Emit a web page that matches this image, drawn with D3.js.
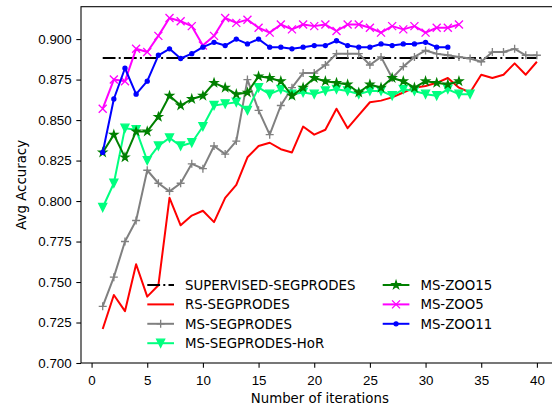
<!DOCTYPE html>
<html>
<head>
<meta charset="UTF-8">
<title>Avg Accuracy vs iterations</title>
<style>
  body { margin: 0; background: #fff; }
  svg { display: block; font-family: "DejaVu Sans", sans-serif; }
  .axis text { font-size: 13.33px; fill: #000; }
  .axis path, .axis line { stroke: #000; stroke-width: 1.07px; }
  .lbl { font-size: 13.33px; fill: #000; }
</style>
</head>
<body>
<svg></svg>
<script src="https://d3js.org/d3.v7.min.js"></script>
<script>

const width = 552, height = 408;

// iteration numbers (x)
const iterations = [1, 2, 3, 4, 5, 6, 7, 8, 9, 10, 11, 12, 13, 14, 15, 16, 17, 18, 19, 20,
  21, 22, 23, 24, 25, 26, 27, 28, 29, 30, 31, 32, 33, 34, 35, 36, 37, 38, 39, 40];

// values
const supervised = 0.8883;
const rsSeg = [0.721, 0.742, 0.732, 0.761, 0.741, 0.748, 0.802, 0.785, 0.791, 0.794,
  0.787, 0.802, 0.810, 0.827, 0.834, 0.836, 0.832, 0.830, 0.846, 0.841,
  0.844, 0.857, 0.845, 0.853, 0.861, 0.862, 0.864, 0.867, 0.870, 0.871,
  0.873, 0.876, 0.870, 0.867, 0.878, 0.876, 0.878, 0.885, 0.878, 0.886];
const msSeg = [0.735, 0.753, 0.775, 0.788, 0.819, 0.811, 0.806, 0.811, 0.823, 0.820,
  0.834, 0.829, 0.837, 0.875, 0.856, 0.841, 0.859, 0.870, 0.879, 0.879,
  0.884, 0.891, 0.891, 0.891, 0.884, 0.889, 0.876, 0.883, 0.889, 0.893,
  0.891, 0.890, 0.889, 0.888, 0.886, 0.892, 0.892, 0.894, 0.890, 0.890];
const msSegHoR = [0.796, 0.811, 0.845, 0.844, 0.825, 0.834, 0.839, 0.834, 0.836, 0.846,
  0.859, 0.860, 0.861, 0.856, 0.870, 0.866, 0.869, 0.866, 0.867, 0.866,
  0.868, 0.869, 0.868, 0.866, 0.868, 0.868, 0.865, 0.869, 0.868, 0.866,
  0.865, 0.869, 0.866, 0.866];
const msZoo15 = [0.830, 0.841, 0.827, 0.843, 0.843, 0.852, 0.865, 0.859, 0.863, 0.865,
  0.873, 0.870, 0.866, 0.867, 0.877, 0.876, 0.874, 0.865, 0.870, 0.876,
  0.874, 0.873, 0.872, 0.867, 0.872, 0.870, 0.876, 0.874, 0.870, 0.874,
  0.873, 0.872, 0.874];
const msZoo5 = [0.857, 0.875, 0.874, 0.894, 0.892, 0.902, 0.913, 0.911, 0.908, 0.896,
  0.902, 0.913, 0.910, 0.912, 0.907, 0.904, 0.909, 0.906, 0.909, 0.908,
  0.909, 0.905, 0.909, 0.909, 0.907, 0.904, 0.908, 0.906, 0.908, 0.904,
  0.907, 0.907, 0.909];
const msZoo11 = [0.830, 0.863, 0.882, 0.866, 0.874, 0.890, 0.894, 0.888, 0.891, 0.895,
  0.898, 0.896, 0.900, 0.897, 0.900, 0.895, 0.895, 0.894, 0.895, 0.896,
  0.896, 0.899, 0.896, 0.895, 0.895, 0.897, 0.896, 0.897, 0.897, 0.898,
  0.895, 0.895];

const xTicks = [0, 5, 10, 15, 20, 25, 30, 35, 40];
const yTicks = [0.700, 0.725, 0.750, 0.775, 0.800, 0.825, 0.850, 0.875, 0.900];

const series = [
  {name: "SUPERVISED-SEGPRODES", values: iterations.map(() => supervised), color: "#000", marker: null, dash: "12.8,3.2,2,3.2"},
  {name: "RS-SEGPRODES", values: rsSeg, color: "#ff0000", marker: null},
  {name: "MS-SEGPRODES", values: msSeg, color: "#808080", marker: "plus"},
  {name: "MS-SEGPRODES-HoR", values: msSegHoR, color: "#00ff7f", marker: "tri"},
  {name: "MS-ZOO15", values: msZoo15, color: "#008000", marker: "star"},
  {name: "MS-ZOO5", values: msZoo5, color: "#ff00ff", marker: "x"},
  {name: "MS-ZOO11", values: msZoo11, color: "#0000ff", marker: "dot"}
];

const svg = d3.select("svg").attr("width", width).attr("height", height);
svg.append("rect").attr("width", width).attr("height", height).attr("fill", "#fff");

const plotL = 81, plotR = 558.6, plotT = 6.7, plotB = 363;
const x = d3.scaleLinear().domain([-0.95, 41.95]).range([plotL, plotR]);
const y = d3.scaleLinear().domain([0.70, 0.92]).range([plotB, plotT]);

// star path like matplotlib '*'
function starPath(r) {
  const pts = [];
  for (let k = 0; k < 10; k++) {
    const rr = k % 2 ? r * 0.381966 : r;
    const a = -Math.PI / 2 + k * Math.PI / 5;
    pts.push([rr * Math.cos(a), rr * Math.sin(a)]);
  }
  return "M" + pts.map(p => p[0].toFixed(2) + "," + p[1].toFixed(2)).join("L") + "Z";
}

function drawMarker(g, type, color) {
  if (type == "plus") {
    g.append("path").attr("d", "M-4,0H4M0,-4V4").attr("stroke", color).attr("stroke-width", 1.33).attr("fill", "none");
  } else if (type == "x") {
    g.append("path").attr("d", "M-4,-4L4,4M-4,4L4,-4").attr("stroke", color).attr("stroke-width", 1.33).attr("fill", "none");
  } else if (type == "tri") {
    g.append("path").attr("d", "M0,4L4,-4L-4,-4Z").attr("fill", color).attr("stroke", color).attr("stroke-width", 1.33);
  } else if (type == "star") {
    g.append("path").attr("d", starPath(4)).attr("fill", color).attr("stroke", color).attr("stroke-width", 1.33).attr("stroke-linejoin", "miter");
  } else if (type == "dot") {
    g.append("circle").attr("r", 2).attr("fill", color).attr("stroke", color).attr("stroke-width", 1.33);
  }
}

// axes
const xAxis = svg.append("g").attr("class", "axis")
  .attr("transform", "translate(0," + plotB + ")")
  .call(d3.axisBottom(x).tickValues(xTicks).tickSize(4.67).tickPadding(4.67).tickSizeOuter(0));
xAxis.selectAll("text").attr("dy", "0.98em");
xAxis.select(".domain").remove();

const yAxis = svg.append("g").attr("class", "axis")
  .attr("transform", "translate(" + plotL + ",0)")
  .call(d3.axisLeft(y).tickValues(yTicks).tickFormat(d3.format(".3f")).tickSize(4.67).tickPadding(4.67).tickSizeOuter(0));
yAxis.select(".domain").remove();

// frame
svg.append("rect")
  .attr("x", plotL).attr("y", plotT)
  .attr("width", plotR - plotL).attr("height", plotB - plotT)
  .attr("fill", "none").attr("stroke", "#000").attr("stroke-width", 1.07);

// lines + markers
const line = d3.line().x((d, i) => x(iterations[i])).y(d => y(d));
series.forEach(s => {
  svg.append("path")
    .datum(s.values)
    .attr("d", line)
    .attr("fill", "none")
    .attr("stroke", s.color)
    .attr("stroke-width", 2)
    .attr("stroke-linejoin", "round")
    .attr("stroke-dasharray", s.dash || null);
  if (s.marker) {
    s.values.forEach((v, i) => {
      const g = svg.append("g").attr("transform", "translate(" + x(iterations[i]) + "," + y(v) + ")");
      drawMarker(g, s.marker, s.color);
    });
  }
});

// axis labels
svg.append("text").attr("class", "lbl")
  .attr("x", (plotL + plotR) / 2).attr("y", 403)
  .attr("text-anchor", "middle")
  .text("Number of iterations");
svg.append("text").attr("class", "lbl")
  .attr("transform", "translate(21," + ((plotT + plotB) / 2) + ") rotate(-90)")
  .attr("text-anchor", "middle").attr("dy", "0.35em")
  .text("Avg Accuracy");

// legend, two columns, no frame
const colX = [147.3, 382.7], rowY = [285, 304.4, 323.8, 343.2];
series.forEach((s, i) => {
  const col = i < 4 ? 0 : 1, row = i < 4 ? i : i - 4;
  const g = svg.append("g").attr("transform", "translate(" + colX[col] + "," + rowY[row] + ")");
  g.append("line").attr("x1", 0).attr("x2", 26.7)
    .attr("stroke", s.color).attr("stroke-width", 2)
    .attr("stroke-dasharray", s.dash || null);
  if (s.marker) {
    const m = g.append("g").attr("transform", "translate(13.35,0)");
    drawMarker(m, s.marker, s.color);
  }
  g.append("text").attr("class", "lbl")
    .attr("x", 37.7).attr("dy", "0.36em")
    .text(s.name);
});

</script>
</body>
</html>
